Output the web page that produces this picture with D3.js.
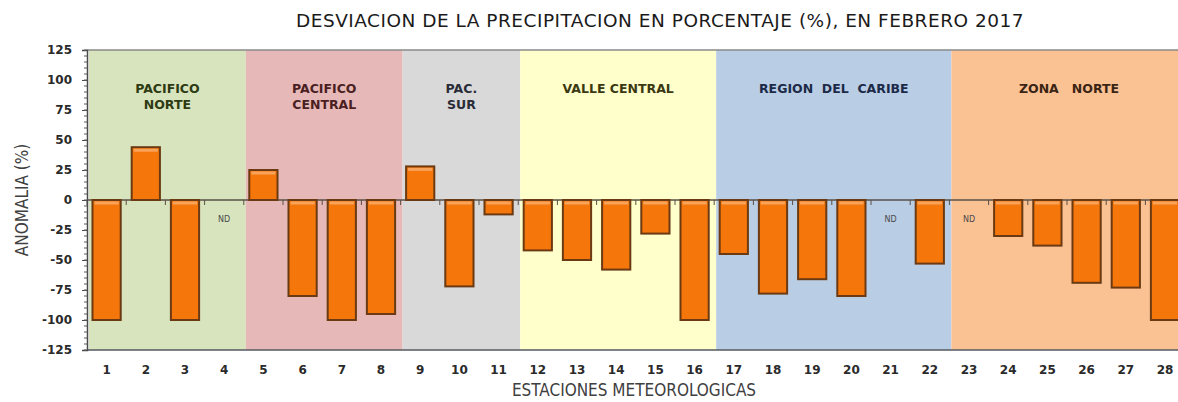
<!DOCTYPE html>
<html>
<head>
<meta charset="utf-8">
<script src="https://cdn.jsdelivr.net/npm/d3@7"></script>
<style>
  html, body { margin: 0; padding: 0; background: #ffffff; overflow: hidden; }
  svg { display: block; }
</style>
</head>
<body>
<svg id="chart" width="1178" height="402"></svg>
<script>
// Stations (x categories)
const stations = d3.range(1, 29).map(String);

// Precipitation anomaly (%) per station; null = no data (ND)
const anomaly = [
  -100, 44, -100, null,
  25, -80, -100, -95,
  28, -72, -12,
  -42, -50, -58, -28, -100,
  -45, -78, -66, -80, null, -53,
  null, -30, -38, -69, -73, -100
];

// Regions: label lines, first and last station index (0-based), colours
const regionNames = [
  ["PACIFICO", "NORTE"],
  ["PACIFICO", "CENTRAL"],
  ["PAC.", "SUR"],
  ["VALLE CENTRAL"],
  ["REGION  DEL  CARIBE"],
  ["ZONA   NORTE"]
];
const regionStart = [0, 4, 8, 11, 16, 22];
const regionEnd   = [3, 7, 10, 15, 21, 27];
const regionFill  = ["#d7e4bd", "#e6b9b8", "#d9d9d9", "#ffffcc", "#b9cde5", "#fac193"];
const regionInk   = ["#2e3a12", "#4a1f22", "#2a2c38", "#3a3812", "#1c2a48", "#3a2414"];

// Y axis ticks
const yTicks = d3.range(-125, 126, 25);
const yMinor = d3.range(-125, 126, 5);

const title = "DESVIACION DE LA PRECIPITACION EN PORCENTAJE (%), EN FEBRERO 2017";
const yTitle = "ANOMALIA (%)";
const xTitle = "ESTACIONES METEOROLOGICAS";

const svg = d3.select("#chart");
const plotLeft = 87, plotTop = 50, plotBottom = 350;
const step = 39.2;
const plotRight = plotLeft + step * stations.length;

const x = d3.scaleBand()
  .domain(stations)
  .range([plotLeft, plotRight])
  .paddingInner(0.28)
  .paddingOuter(0.14);

const y = d3.scaleLinear().domain([-125, 125]).range([plotBottom, plotTop]);

// Region backgrounds
const regions = regionNames.map((n, i) => ({
  lines: n, s: regionStart[i], e: regionEnd[i], fill: regionFill[i], ink: regionInk[i]
}));
const bandX0 = i => plotLeft + i * x.step();

svg.append("g").selectAll("rect")
  .data(regions).join("rect")
  .attr("x", d => bandX0(d.s) + 2)
  .attr("y", plotTop)
  .attr("width", d => bandX0(d.e + 1) - bandX0(d.s))
  .attr("height", plotBottom - plotTop)
  .attr("fill", d => d.fill);

// Region labels
const regLab = svg.append("g")
  .attr("font-family", "'DejaVu Sans', Verdana, sans-serif")
  .attr("font-weight", "bold")
  .attr("font-size", 12.5)
  .attr("text-anchor", "middle");
regions.forEach(r => {
  const cx = (bandX0(r.s) + bandX0(r.e + 1)) / 2 + 2;
  r.lines.forEach((ln, j) => {
    regLab.append("text")
      .attr("x", cx)
      .attr("y", 93 + j * 16)
      .attr("fill", r.ink)
      .style("white-space", "pre")
      .text(ln);
  });
});

// Plot frame: top and bottom edges
svg.append("line")
  .attr("x1", plotLeft).attr("x2", plotRight)
  .attr("y1", plotTop).attr("y2", plotTop)
  .attr("stroke", "#8a8a8a").attr("stroke-width", 1.5);
svg.append("line")
  .attr("x1", plotLeft).attr("x2", plotRight)
  .attr("y1", plotBottom).attr("y2", plotBottom)
  .attr("stroke", "#555a60").attr("stroke-width", 1.5);

// Zero line
svg.append("line")
  .attr("x1", plotLeft).attr("x2", plotRight)
  .attr("y1", y(0)).attr("y2", y(0))
  .attr("stroke", "#5a5048").attr("stroke-width", 1.5);

// Category tick marks on the zero line
svg.append("g").selectAll("line")
  .data(d3.range(0, stations.length + 1)).join("line")
  .attr("x1", i => bandX0(i)).attr("x2", i => bandX0(i))
  .attr("y1", y(0)).attr("y2", y(0) + 5)
  .attr("stroke", "#5a5048").attr("stroke-width", 1);

// Bars
const barData = stations.map((s, i) => ({ s, v: anomaly[i] })).filter(d => d.v !== null);
const bars = svg.append("g");
bars.selectAll("rect.bar")
  .data(barData).join("rect")
  .attr("class", "bar")
  .attr("x", d => x(d.s))
  .attr("y", d => y(Math.max(0, d.v)))
  .attr("width", x.bandwidth())
  .attr("height", d => Math.abs(y(d.v) - y(0)))
  .attr("fill", "#f5760a")
  .attr("stroke", "#6b3a12")
  .attr("stroke-width", 2);
// light bevel along each bar's upper edge
bars.selectAll("rect.hi")
  .data(barData).join("rect")
  .attr("class", "hi")
  .attr("x", d => x(d.s) + 2)
  .attr("y", d => y(Math.max(0, d.v)) + 1.5)
  .attr("width", x.bandwidth() - 4)
  .attr("height", 3)
  .attr("fill", "#f9a35a");

// ND labels
svg.append("g").selectAll("text")
  .data(stations.map((s, i) => ({ s, v: anomaly[i] })).filter(d => d.v === null))
  .join("text")
  .attr("x", d => x(d.s) + x.bandwidth() / 2)
  .attr("y", y(0) + 22)
  .attr("text-anchor", "middle")
  .attr("font-family", "'DejaVu Sans', Verdana, sans-serif")
  .attr("font-size", 8)
  .attr("fill", "#4a4a4a")
  .text("ND");

// Y axis
const yAxis = svg.append("g")
  .attr("transform", `translate(${plotLeft},0)`)
  .call(d3.axisLeft(y).tickValues(yTicks).tickFormat(d => String(d)).tickSize(5).tickPadding(10));
yAxis.select(".domain").attr("stroke", "#4a4a4a").attr("stroke-width", 1.5);
yAxis.selectAll(".tick line").attr("stroke", "#4a4a4a");
yAxis.selectAll(".tick text")
  .attr("font-family", "'DejaVu Sans', Verdana, sans-serif")
  .attr("font-weight", "bold")
  .attr("font-size", 12)
  .attr("fill", "#2a2a2a");
svg.append("g").selectAll("line")
  .data(yMinor).join("line")
  .attr("x1", plotLeft - 3).attr("x2", plotLeft)
  .attr("y1", d => y(d)).attr("y2", d => y(d))
  .attr("stroke", "#5a5a5a").attr("stroke-width", 1);

// X axis labels
const xAxis = svg.append("g")
  .attr("transform", `translate(0,${plotBottom})`)
  .call(d3.axisBottom(x).tickSize(0).tickPadding(15));
xAxis.select(".domain").remove();
xAxis.selectAll(".tick text")
  .attr("font-family", "'DejaVu Sans', Verdana, sans-serif")
  .attr("font-weight", "bold")
  .attr("font-size", 12)
  .attr("fill", "#2a2a2a");

// Titles
svg.append("text")
  .attr("x", 660).attr("y", 27)
  .attr("text-anchor", "middle")
  .attr("font-family", "'DejaVu Sans', sans-serif")
  .attr("font-size", 18.5)
  .attr("letter-spacing", 0.5)
  .attr("fill", "#1a1a1a")
  .text(title);

svg.append("text")
  .attr("transform", `translate(28,${y(0)}) rotate(-90)`)
  .attr("text-anchor", "middle")
  .attr("font-family", "'DejaVu Sans Condensed', 'DejaVu Sans', sans-serif")
  .attr("font-size", 17)
  .attr("fill", "#404040")
  .text(yTitle);

svg.append("text")
  .attr("x", 634).attr("y", 396)
  .attr("text-anchor", "middle")
  .attr("font-family", "'DejaVu Sans Condensed', 'DejaVu Sans', sans-serif")
  .attr("font-size", 17)
  .attr("fill", "#404040")
  .text(xTitle);
</script>
</body>
</html>
